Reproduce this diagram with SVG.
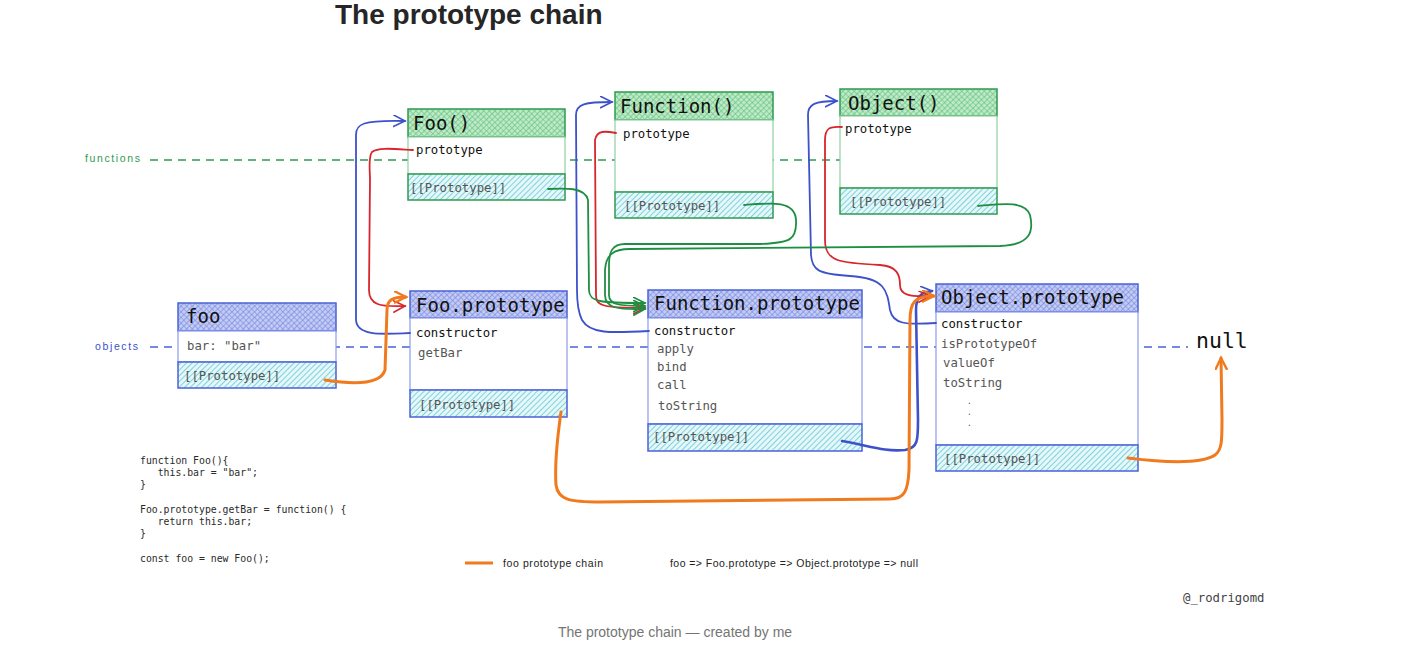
<svg xmlns="http://www.w3.org/2000/svg" width="1404" height="665" viewBox="0 0 1404 665">
<defs>
<pattern id="hBlue" width="4" height="4" patternUnits="userSpaceOnUse" patternTransform="rotate(45)">
<rect width="4" height="4" fill="#c3cbf3"/>
<path d="M0,0 V4 M0,0 H4" stroke="#6f82e0" stroke-width="1.2"/>
</pattern>
<pattern id="hGreen" width="4" height="4" patternUnits="userSpaceOnUse" patternTransform="rotate(45)">
<rect width="4" height="4" fill="#bfe8c9"/>
<path d="M0,0 V4 M0,0 H4" stroke="#56c072" stroke-width="1.2"/>
</pattern>
<pattern id="hCyan" width="4" height="4" patternUnits="userSpaceOnUse" patternTransform="rotate(45)">
<rect width="4" height="4" fill="#e6f7f9"/>
<path d="M0,0 V4" stroke="#45c0d0" stroke-width="1.3"/>
</pattern>
<marker id="aBlue" markerWidth="16" markerHeight="16" refX="12" refY="6" orient="auto" markerUnits="userSpaceOnUse"><path d="M0,0 L12,6 L0,12" fill="none" stroke="#3d52c9" stroke-width="1.6"/></marker>
<marker id="aRed" markerWidth="16" markerHeight="16" refX="12" refY="6" orient="auto" markerUnits="userSpaceOnUse"><path d="M0,0 L12,6 L0,12" fill="none" stroke="#d8262c" stroke-width="1.6"/></marker>
<marker id="aGreen" markerWidth="16" markerHeight="16" refX="12" refY="6" orient="auto" markerUnits="userSpaceOnUse"><path d="M0,0 L12,6 L0,12" fill="none" stroke="#1e8f42" stroke-width="1.6"/></marker>
<marker id="aOrange" markerWidth="16" markerHeight="16" refX="12" refY="6" orient="auto" markerUnits="userSpaceOnUse"><path d="M0,0 L12,6 L0,12" fill="none" stroke="#f07a1e" stroke-width="2.4"/></marker>
</defs>
<style>
.ttl{font-family:"Liberation Sans",Arial,sans-serif;font-weight:bold;font-size:28px;fill:#262626}
.cap{font-family:"Liberation Sans",Arial,sans-serif;font-size:14px;fill:#757575}
.hd{font-family:"DejaVu Sans Mono",monospace;font-size:19px;fill:#111}
.pk{font-family:"DejaVu Sans Mono",monospace;font-size:12.3px;fill:#111}
.pg{font-family:"DejaVu Sans Mono",monospace;font-size:12.3px;fill:#555}
.dot{font-family:"DejaVu Sans Mono",monospace;font-size:8px;fill:#555}
.code{font-family:"DejaVu Sans Mono",monospace;font-size:9.8px;fill:#2a2a2a;white-space:pre}
.hand{font-family:"Liberation Sans",sans-serif;font-size:10.5px}
.bB{stroke:#4a62d6;stroke-width:1.5}
.bG{stroke:#2f9a50;stroke-width:1.5}
.bodyB{fill:#fff;stroke:#8c9cec;stroke-width:1.2}
.bodyG{fill:#fff;stroke:#8fd0a2;stroke-width:1.2}
.c{fill:none;stroke-width:1.8;stroke-linecap:round;stroke-linejoin:round}
.blue{stroke:#3d52c9}.red{stroke:#d8262c}.green{stroke:#1e8f42}.orange{stroke:#f07a1e;stroke-width:3}
</style>
<rect width="1404" height="665" fill="#fff"/>
<text class="ttl" x="335" y="24">The prototype chain</text>

<g id="guides">
<line x1="150" y1="160" x2="840" y2="160" stroke="#2f9a50" stroke-width="1.3" stroke-dasharray="8,6"/>
<text class="hand" x="85" y="162" fill="#2f9a50" textLength="55">functions</text>
<line x1="150" y1="347" x2="1188" y2="347" stroke="#4a62d6" stroke-width="1.3" stroke-dasharray="8,6"/>
<text class="hand" x="95" y="350" fill="#3d52c9" textLength="43">objects</text>
</g>

<g id="foo">
<rect x="178" y="303" width="158" height="28" fill="url(#hBlue)" class="bB"/>
<rect x="178" y="331" width="158" height="31" class="bodyB"/>
<rect x="178" y="362" width="158" height="26" fill="url(#hCyan)" class="bB"/>
<text class="hd" x="186" y="323">foo</text>
<text class="pg" x="187" y="350">bar: "bar"</text>
<text class="pg" x="184" y="380">[[Prototype]]</text>
</g>

<g id="Foo">
<rect x="408" y="109" width="157" height="28" fill="url(#hGreen)" class="bG"/>
<rect x="408" y="137" width="157" height="37" class="bodyG"/>
<rect x="408" y="174" width="157" height="26" fill="url(#hCyan)" class="bG"/>
<text class="hd" x="413" y="130">Foo()</text>
<text class="pk" x="416" y="154">prototype</text>
<text class="pg" x="410" y="192">[[Prototype]]</text>
</g>

<g id="FooPrototype">
<rect x="410" y="291" width="157" height="27" fill="url(#hBlue)" class="bB"/>
<rect x="410" y="318" width="157" height="72" class="bodyB"/>
<rect x="410" y="390" width="157" height="27" fill="url(#hCyan)" class="bB"/>
<text class="hd" x="416" y="312">Foo.prototype</text>
<text class="pk" x="416" y="337">constructor</text>
<text class="pg" x="418" y="357">getBar</text>
<text class="pg" x="419" y="409">[[Prototype]]</text>
</g>

<g id="Function">
<rect x="615" y="92" width="158" height="28" fill="url(#hGreen)" class="bG"/>
<rect x="615" y="120" width="158" height="72" class="bodyG"/>
<rect x="615" y="192" width="158" height="26" fill="url(#hCyan)" class="bG"/>
<text class="hd" x="620" y="113">Function()</text>
<text class="pk" x="623" y="138">prototype</text>
<text class="pg" x="624" y="210">[[Prototype]]</text>
</g>

<g id="Object">
<rect x="840" y="89" width="157" height="27" fill="url(#hGreen)" class="bG"/>
<rect x="840" y="116" width="157" height="72" class="bodyG"/>
<rect x="840" y="188" width="157" height="26" fill="url(#hCyan)" class="bG"/>
<text class="hd" x="848" y="110">Object()</text>
<text class="pk" x="845" y="133">prototype</text>
<text class="pg" x="850" y="206">[[Prototype]]</text>
</g>

<g id="FunctionPrototype">
<rect x="648" y="290" width="214" height="28" fill="url(#hBlue)" class="bB"/>
<rect x="648" y="318" width="214" height="106" class="bodyB"/>
<rect x="648" y="424" width="214" height="27" fill="url(#hCyan)" class="bB"/>
<text class="hd" x="654" y="310">Function.prototype</text>
<text class="pk" x="654" y="335">constructor</text>
<text class="pg" x="657" y="353">apply</text>
<text class="pg" x="657" y="371">bind</text>
<text class="pg" x="657" y="389">call</text>
<text class="pg" x="658" y="410">toString</text>
<text class="pg" x="653" y="441">[[Prototype]]</text>
</g>

<g id="ObjectPrototype">
<rect x="936" y="284" width="202" height="28" fill="url(#hBlue)" class="bB"/>
<rect x="936" y="312" width="202" height="133" class="bodyB"/>
<rect x="936" y="445" width="202" height="26" fill="url(#hCyan)" class="bB"/>
<text class="hd" x="941" y="304">Object.prototype</text>
<text class="pk" x="941" y="328">constructor</text>
<text class="pg" x="941" y="348">isPrototypeOf</text>
<text class="pg" x="943" y="367">valueOf</text>
<text class="pg" x="943" y="387">toString</text>
<text class="dot" x="967" y="404">.</text>
<text class="dot" x="967" y="415">.</text>
<text class="dot" x="967" y="426">.</text>
<text class="pg" x="944" y="463">[[Prototype]]</text>
</g>

<g id="null">
<text class="hd" x="1196" y="348" style="font-size:21.5px">null</text>
</g>

<g id="connectors">
<path class="c blue" marker-end="url(#aBlue)" d="M410,333 C385,334 357,337 356,320 L356,135 C356,124 362,120 405,121"/>
<path class="c blue" marker-end="url(#aBlue)" d="M649,331 C610,333 590,334 582,320 C578,312 577,300 577,290 L576,115 C576,104 585,102 612,102"/>
<path class="c blue" marker-end="url(#aBlue)" d="M936,323 C905,325 893,324 890,310 C887,290 885,278 850,276 C818,274 812,270 811,255 L808,115 C808,104 815,101 837,101"/>
<path class="c blue" style="stroke-width:2.6" marker-end="url(#aBlue)" d="M842,441 C870,446 885,452 905,450 C918,448 918,440 918,420 L916,310 C916,298 920,292 932,291"/>

<path class="c red" marker-end="url(#aRed)" d="M413,150 C395,149 378,147 372,152 C368,157 370,170 370,180 L369,290 C369,305 380,307 405,306"/>
<path class="c red" marker-end="url(#aRed)" d="M616,133 C605,131 597,130 595,140 L596,295 C596,305 600,308 645,308"/>
<path class="c red" marker-end="url(#aRed)" d="M842,127 C830,126 825,128 825,140 L825,240 C825,262 840,263 880,265 C897,266 900,275 900,285 C900,295 910,297 930,296"/>

<path class="c green" marker-end="url(#aGreen)" d="M548,189 C565,188 585,187 588,200 L589,290 C589,302 600,303 645,303"/>
<path class="c green" marker-end="url(#aGreen)" d="M744,205 C770,203 795,200 796,220 C797,240 790,243 760,244 L625,244 C612,244 609,252 609,265 L609,295 C609,305 620,306 645,306"/>
<path class="c green" marker-end="url(#aGreen)" d="M978,206 C1000,204 1025,200 1030,215 C1034,232 1030,245 1000,246 L630,249 C613,249 606,255 605,270 L605,295 C605,308 618,310 645,309"/>

<path class="c orange" marker-end="url(#aOrange)" d="M325,380 C350,384 380,386 385,370 L387,310 C387,300 392,297 406,297"/>
<path class="c orange" marker-end="url(#aOrange)" d="M561,412 C557,440 555,470 556,485 C558,500 570,502 600,502 L890,499 C905,499 908,490 909,470 L910,320 C910,302 915,296 934,296"/>
<path class="c orange" marker-end="url(#aOrange)" d="M1128,458 C1160,462 1200,465 1215,455 C1222,450 1222,440 1222,420 L1221,358"/>
</g>

<g id="code">
<text class="code" x="140" y="464">function Foo(){</text>
<text class="code" x="140" y="476">   this.bar = "bar";</text>
<text class="code" x="140" y="488">}</text>
<text class="code" x="140" y="513">Foo.prototype.getBar = function() {</text>
<text class="code" x="140" y="525">   return this.bar;</text>
<text class="code" x="140" y="537">}</text>
<text class="code" x="140" y="562">const foo = new Foo();</text>
</g>

<g id="legend">
<line x1="465" y1="563" x2="493" y2="563" stroke="#f07a1e" stroke-width="3"/>
<text class="hand" x="503" y="567" fill="#222" textLength="100">foo prototype chain</text>
<text class="hand" x="670" y="567" fill="#222" textLength="248">foo =&gt; Foo.prototype =&gt; Object.prototype =&gt; null</text>
</g>

<text class="pg" x="1183" y="602" style="fill:#444">@_rodrigomd</text>
<text class="cap" x="675" y="637" text-anchor="middle">The prototype chain — created by me</text>
</svg>
